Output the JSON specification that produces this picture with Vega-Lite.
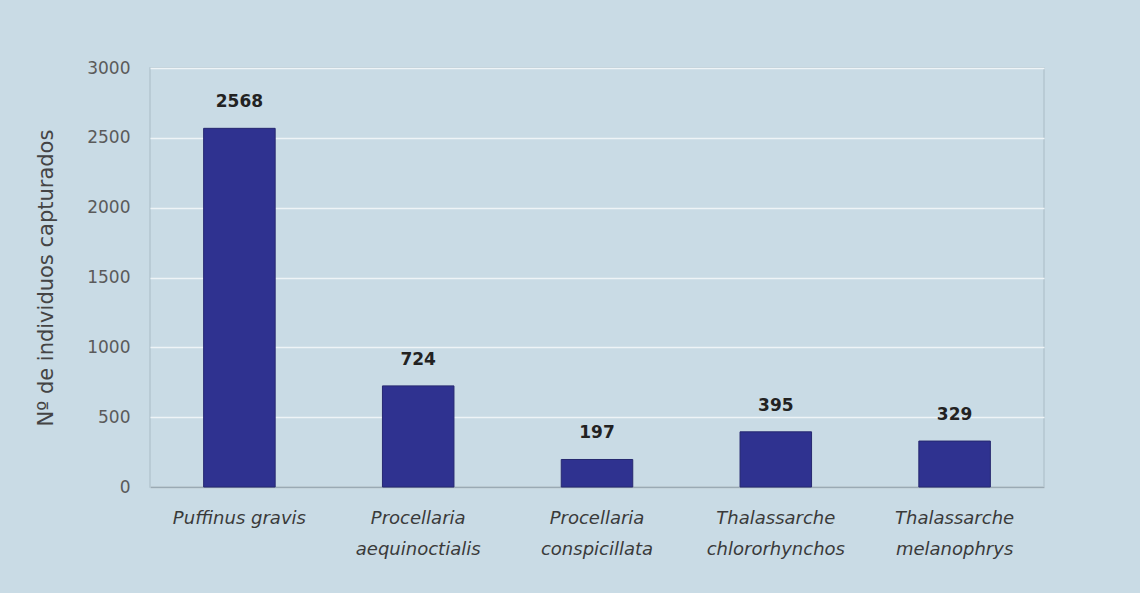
{
  "$schema": "https://vega.github.io/schema/vega-lite/v6.json",
  "autosize": {"type": "none"},
  "width": 894,
  "height": 419,
  "padding": {"left": 150, "top": 68, "right": 96, "bottom": 106},
  "background": "#c9dbe5",
  "config": {
    "view": {"stroke": "#b4c6d0", "strokeWidth": 1.5, "fill": "#c9dbe5"},
    "font": "DejaVu Sans"
  },
  "data": {
    "values": [
      {"especie": "Puffinus gravis", "n": 2568},
      {"especie": "Procellaria aequinoctialis", "n": 724},
      {"especie": "Procellaria conspicillata", "n": 197},
      {"especie": "Thalassarche chlororhynchos", "n": 395},
      {"especie": "Thalassarche melanophrys", "n": 329}
    ]
  },
  "encoding": {
    "x": {
      "field": "especie",
      "type": "nominal",
      "sort": null,
      "scale": {"paddingInner": 0.6, "paddingOuter": 0.3},
      "axis": {
        "title": null,
        "labelAngle": 0,
        "labelFont": "DejaVu Sans",
        "labelFontStyle": "italic",
        "labelFontSize": 18,
        "labelColor": "#3a3a3a",
        "labelLineHeight": 31,
        "labelPadding": 22,
        "labelExpr": "datum.label == 'Puffinus gravis' ? datum.label : split(datum.label, ' ')",
        "domainColor": "#9aaab4",
        "domainWidth": 1.5,
        "ticks": false
      }
    }
  },
  "layer": [
    {
      "mark": {"type": "bar", "color": "#2f3290", "stroke": "#262870", "strokeWidth": 1},
      "encoding": {
        "y": {
          "field": "n",
          "type": "quantitative",
          "scale": {"domain": [0, 3000]},
          "axis": {
            "title": "Nº de individuos capturados",
            "titleFont": "DejaVu Sans",
            "titleFontSize": 21,
            "titleFontWeight": "normal",
            "titleColor": "#444444",
            "titlePadding": 30,
            "values": [0, 500, 1000, 1500, 2000, 2500, 3000],
            "labelFontSize": 17,
            "labelColor": "#5a5a5a",
            "labelPadding": 20,
            "ticks": false,
            "domain": false,
            "grid": true,
            "gridColor": "#eef4f7",
            "gridWidth": 1.5,
            "format": "d"
          }
        }
      }
    },
    {
      "mark": {"type": "text", "baseline": "bottom", "dy": -17, "fontWeight": "bold", "fontSize": 17, "color": "#222222"},
      "encoding": {
        "y": {"field": "n", "type": "quantitative"},
        "text": {"field": "n", "type": "quantitative", "format": "d"}
      }
    }
  ]
}
